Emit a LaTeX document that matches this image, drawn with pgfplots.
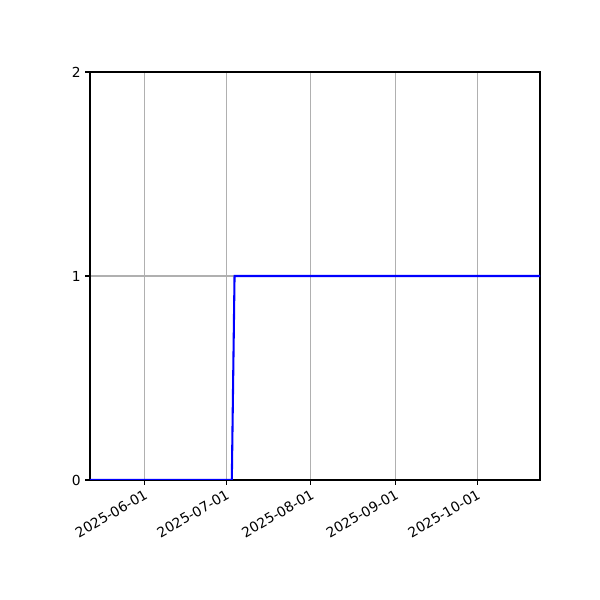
\documentclass[border=0pt]{standalone}
\usepackage{fontspec}
\setmainfont{DejaVu Sans}
\usepackage{pgfplots}
\pgfplotsset{compat=1.18}
\definecolor{gridgray}{HTML}{B0B0B0}

\begin{document}
\begin{tikzpicture}
  \fontsize{10pt}{12pt}\selectfont
  % page of 6in x 6in, axis box placed like the reference
  \path[use as bounding box] (-0.9in,-1.2in) rectangle (5.1in,4.8in);
  \begin{axis}[
    at={(0,0)}, anchor=south west,
    scale only axis,
    width=4.5in, height=4.08in,
    xmin=-20, xmax=145,
    ymin=0, ymax=2,
    % days counted from 2025-06-01
    xtick={0,30,61,92,122},
    xticklabels={2025-06-01,2025-07-01,2025-08-01,2025-09-01,2025-10-01},
    ytick={0,1,2},
    xmajorgrids, ymajorgrids,
    grid style={gridgray, line width=0.8pt},
    axis line style={black, line width=0.8pt},
    tick style={black, line width=0.8pt},
    tick align=outside,
    major tick length=3.5pt,
    xtick pos=bottom, ytick pos=left,
    /pgf/number format/assume math mode=true,
    ticklabel style={font=\fontsize{10pt}{12pt}\selectfont},
    xticklabel style={rotate=30, anchor=north east, inner sep=2pt},
    yticklabel style={inner sep=3pt},
  ]
    \addplot[blue, line width=1.5pt] coordinates {
      (-20,0) (32,0) (33,1) (145,1)
    };
  \end{axis}
\end{tikzpicture}
\end{document}
